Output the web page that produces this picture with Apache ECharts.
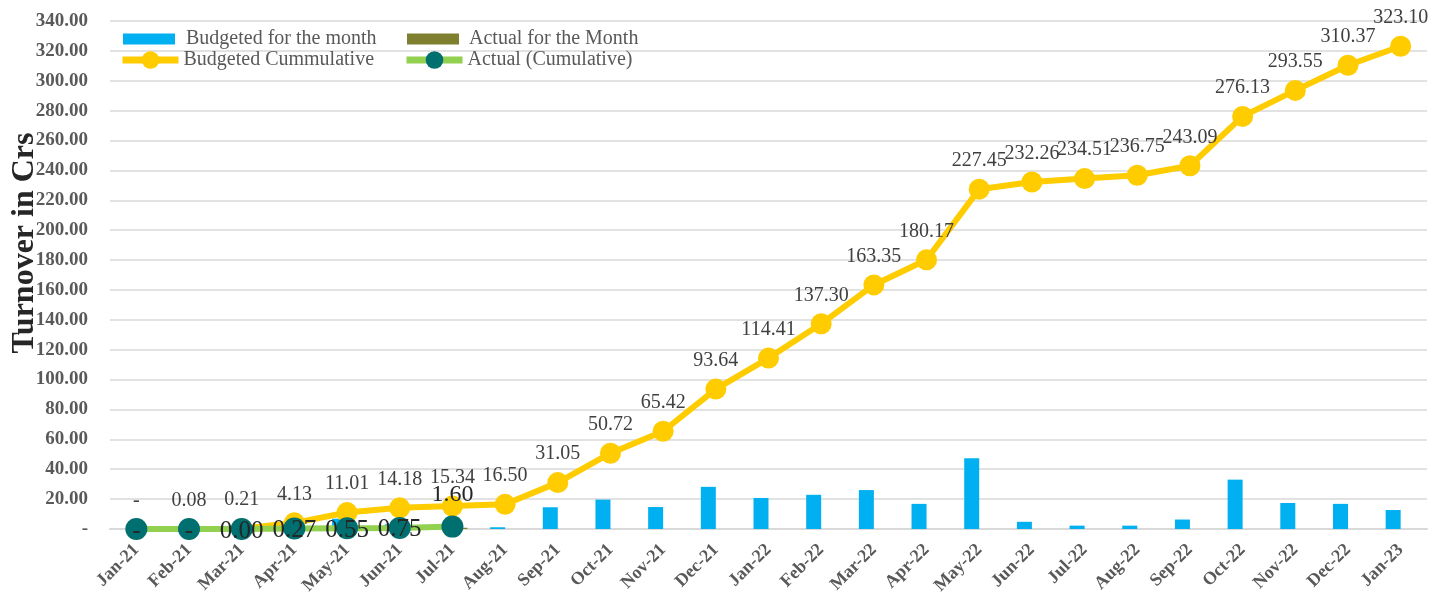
<!DOCTYPE html>
<html>
<head>
<meta charset="utf-8">
<script src="https://cdn.jsdelivr.net/npm/echarts@6/dist/echarts.min.js"></script>
<style>
  html, body { margin: 0; padding: 0; background: #fff; }
  #chart { width: 1431px; height: 602px; }
</style>
</head>
<body>
<div id="chart"></div>
<script>
// Months on the category axis
const months = ['Jan-21','Feb-21','Mar-21','Apr-21','May-21','Jun-21','Jul-21','Aug-21','Sep-21','Oct-21','Nov-21','Dec-21',
  'Jan-22','Feb-22','Mar-22','Apr-22','May-22','Jun-22','Jul-22','Aug-22','Sep-22','Oct-22','Nov-22','Dec-22','Jan-23'];

// Monthly budgeted turnover (Crs)
const budgetMonth = [0, 0.08, 0.13, 3.92, 6.88, 3.17, 1.16, 1.16, 14.55, 19.67, 14.70, 28.22,
  20.77, 22.89, 26.05, 16.82, 47.28, 4.81, 2.25, 2.24, 6.34, 33.04, 17.42, 16.82, 12.73];

// Monthly actual turnover (Crs), only reported through Jul-21
const actualMonth = [0, 0, 0.004, 0.27, 0.28, 0.20, 0.85];

// Cumulative budget (Crs)
const budgetCum = [0, 0.08, 0.21, 4.13, 11.01, 14.18, 15.34, 16.50, 31.05, 50.72, 65.42, 93.64,
  114.41, 137.30, 163.35, 180.17, 227.45, 232.26, 234.51, 236.75, 243.09, 276.13, 293.55, 310.37, 323.10];

// Cumulative actual (Crs)
const actualCum = [0, 0, 0.004, 0.27, 0.55, 0.75, 1.60];

// Y axis range
const yMin = 0, yMax = 340, yStep = 20;

const serif = '"Liberation Serif", "DejaVu Serif", serif';
const fmt = v => (Math.abs(v) < 0.0001 ? '-' : v.toFixed(2));

const chart = echarts.init(document.getElementById('chart'));

// Last actual point carries its label above the marker
const actualCumData = actualCum.map((v, i) => {
  if (i === actualCum.length - 1) {
    return { value: v, label: { position: 'top', distance: 9, offset: [0, 0], fontSize: 24 } };
  }
  return v;
});

const legendText = (padLeft) => ({
  fontFamily: serif, fontSize: 20, color: '#595959', padding: [0, 0, 0, padLeft]
});

chart.setOption({
  animation: false,
  grid: { left: 110, right: 4, top: 21, bottom: 73, containLabel: false },
  legend: [
    {
      data: [{ name: 'Budgeted for the month', icon: 'rect' }],
      left: 123, top: 29, padding: 0,
      itemWidth: 52, itemHeight: 11,
      textStyle: legendText(6)
    },
    {
      data: [{ name: 'Actual for the Month', icon: 'rect' }],
      left: 407, top: 29, padding: 0,
      itemWidth: 52, itemHeight: 11,
      textStyle: legendText(5)
    },
    {
      data: ['Budgeted Cummulative'],
      left: 119, top: 50, padding: 0,
      itemWidth: 56, itemHeight: 22,
      lineStyle: { width: 7 },
      textStyle: legendText(0)
    },
    {
      data: ['Actual (Cumulative)'],
      left: 403, top: 50, padding: 0,
      itemWidth: 56, itemHeight: 22,
      lineStyle: { width: 7 },
      textStyle: legendText(0)
    }
  ],
  xAxis: {
    type: 'category',
    data: months,
    boundaryGap: true,
    axisTick: { show: false },
    axisLine: { lineStyle: { color: '#D9D9D9', width: 2 } },
    axisLabel: {
      rotate: 45, margin: 18, interval: 0,
      fontFamily: serif, fontSize: 18, fontWeight: 'bold', color: '#595959'
    }
  },
  yAxis: {
    type: 'value',
    min: yMin, max: yMax, interval: yStep,
    axisLine: { show: false },
    axisTick: { show: false },
    splitLine: { lineStyle: { color: '#D9D9D9', width: 1.5 } },
    axisLabel: {
      formatter: fmt, margin: 22,
      fontFamily: serif, fontSize: 19, fontWeight: 'bold', color: '#595959'
    }
  },
  graphic: [
    {
      type: 'text',
      x: 25, y: 243,
      rotation: Math.PI / 2,
      style: {
        text: 'Turnover in Crs',
        font: 'bold 32px ' + serif,
        fill: '#262626',
        textAlign: 'center',
        textVerticalAlign: 'middle'
      }
    }
  ],
  series: [
    {
      name: 'Budgeted for the month',
      type: 'bar',
      data: budgetMonth,
      barWidth: 15,
      barGap: '0%',
      itemStyle: { color: '#00B0F0' },
      z: 2
    },
    {
      name: 'Actual for the Month',
      type: 'bar',
      data: actualMonth,
      barWidth: 15,
      itemStyle: { color: '#7F7F30' },
      z: 2
    },
    {
      name: 'Budgeted Cummulative',
      type: 'line',
      data: budgetCum,
      symbol: 'circle',
      symbolSize: 21,
      lineStyle: { color: '#FFCC00', width: 6 },
      itemStyle: { color: '#FFCC00' },
      label: {
        show: true, position: 'top', distance: 8,
        formatter: p => fmt(p.value),
        fontFamily: serif, fontSize: 20, color: '#404040'
      },
      z: 3
    },
    {
      name: 'Actual (Cumulative)',
      type: 'line',
      data: actualCumData,
      symbol: 'circle',
      symbolSize: 22,
      lineStyle: { color: '#92D050', width: 6 },
      itemStyle: { color: '#006F6F' },
      label: {
        show: true, position: 'inside', offset: [0, 2],
        formatter: p => fmt(p.value),
        fontFamily: serif, fontSize: 25, color: '#262626'
      },
      z: 4
    }
  ]
});
</script>
</body>
</html>
